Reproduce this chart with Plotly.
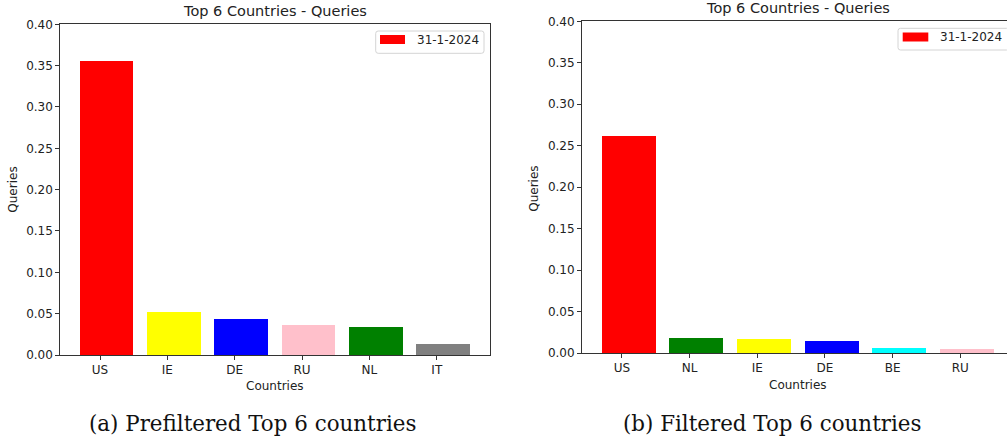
import plotly.graph_objects as go

# Share of queries per country on 31-1-2024
date_label = "31-1-2024"

pre_countries = ["US", "IE", "DE", "RU", "NL", "IT"]
pre_queries = [0.355, 0.052, 0.0435, 0.036, 0.034, 0.013]
pre_colors = ["red", "yellow", "blue", "pink", "green", "gray"]

post_countries = ["US", "NL", "IE", "DE", "BE", "RU"]
post_queries = [0.261, 0.0177, 0.0165, 0.0141, 0.006, 0.0048]
post_colors = ["red", "green", "yellow", "blue", "cyan", "pink"]

panel_title = "Top 6 Countries - Queries"
x_title = "Countries"
y_title = "Queries"
captions = ["(a) Prefiltered Top 6 countries", "(b) Filtered Top 6 countries"]

W, H = 1007, 443


def px(x):
    return x / W


def py(y):
    return 1 - y / H


SANS = "DejaVu Sans"
SERIF = "DejaVu Serif"
INK = "#222222"
SPINE = "#333333"

fig = go.Figure()

fig.add_trace(go.Bar(
    x=pre_countries, y=pre_queries, name=date_label,
    marker=dict(color=pre_colors, line=dict(width=0)),
    width=0.8, offset=-0.3, xaxis="x", yaxis="y", showlegend=False,
))
fig.add_trace(go.Bar(
    x=post_countries, y=post_queries, name=date_label,
    marker=dict(color=post_colors, line=dict(width=0)),
    width=0.8, offset=-0.3, xaxis="x2", yaxis="y2", showlegend=False,
))

tick_font = dict(family=SANS, size=12, color=INK)

common_x = dict(
    type="category", showgrid=False, zeroline=False,
    showline=True, linecolor=SPINE, linewidth=1, mirror=True,
    ticks="outside", ticklen=4, tickwidth=1, tickcolor=SPINE,
    tickfont=tick_font,
)
common_y = dict(
    range=[0, 0.40], dtick=0.05, tick0=0, tickformat=".2f",
    showgrid=False, zeroline=False,
    showline=True, linecolor=SPINE, linewidth=1,
    ticks="outside", ticklen=4, tickwidth=1, tickcolor=SPINE,
    tickfont=tick_font, ticklabelstandoff=0,
)

fig.update_layout(
    width=W, height=H,
    autosize=False,
    margin=dict(l=0, r=0, t=0, b=0, pad=0, autoexpand=False),
    paper_bgcolor="white", plot_bgcolor="white",
    bargap=0,
    xaxis=dict(common_x, domain=[px(60.3), px(490)], range=[-0.59, 5.79],
               categoryorder="array", categoryarray=pre_countries, anchor="y"),
    yaxis=dict(common_y, domain=[py(355), py(24.3)], anchor="x", mirror=True),
    xaxis2=dict(common_x, domain=[px(582), 1.0], range=[-0.59, 5.69],
                categoryorder="array", categoryarray=post_countries, anchor="y2"),
    yaxis2=dict(common_y, domain=[py(353), py(21.3)], anchor="x2", mirror=False),
)

annotations = []
shapes = []

# panel titles, axis titles and captions
panels = [
    dict(cx=275.2, title_y=11, xt_y=386, yt_x=12.7, yt_y=190, cap_x=252),
    dict(cx=798.0, title_y=8, xt_y=384.5, yt_x=533.3, yt_y=188.5, cap_x=772),
]
for p, cap in zip(panels, captions):
    annotations.append(dict(
        text=panel_title, x=px(p["cx"]), y=py(p["title_y"]), xref="paper", yref="paper",
        xanchor="center", yanchor="middle", showarrow=False,
        font=dict(family=SANS, size=14.5, color=INK),
    ))
    annotations.append(dict(
        text=x_title, x=px(p["cx"]), y=py(p["xt_y"]), xref="paper", yref="paper",
        xanchor="center", yanchor="middle", showarrow=False,
        font=dict(family=SANS, size=12, color=INK),
    ))
    annotations.append(dict(
        text=y_title, x=px(p["yt_x"]), y=py(p["yt_y"]), xref="paper", yref="paper",
        xanchor="center", yanchor="middle", showarrow=False, textangle=-90,
        font=dict(family=SANS, size=12, color=INK),
    ))
    annotations.append(dict(
        text=cap, x=px(p["cap_x"]), y=py(423), xref="paper", yref="paper",
        xanchor="center", yanchor="middle", showarrow=False,
        font=dict(family=SERIF, size=21.4, color="#111111"),
    ))

# legend boxes (box, swatch, label)
legends = [
    dict(box=(375.7, 31, 484, 53.3), sw=(380, 35, 405, 44), tx=415, ty=40.5),
    dict(box=(898, 28.3, 1009, 50), sw=(902.7, 32.5, 928.3, 41.5), tx=938, ty=37.5),
]
for lg in legends:
    x0, y0, x1, y1 = lg["box"]
    r = 2.5
    path = (
        f"M {px(x0 + r)} {py(y0)} L {px(x1 - r)} {py(y0)} "
        f"Q {px(x1)} {py(y0)} {px(x1)} {py(y0 + r)} L {px(x1)} {py(y1 - r)} "
        f"Q {px(x1)} {py(y1)} {px(x1 - r)} {py(y1)} L {px(x0 + r)} {py(y1)} "
        f"Q {px(x0)} {py(y1)} {px(x0)} {py(y1 - r)} L {px(x0)} {py(y0 + r)} "
        f"Q {px(x0)} {py(y0)} {px(x0 + r)} {py(y0)} Z"
    )
    shapes.append(dict(type="path", path=path, xref="paper", yref="paper",
                       line=dict(color="#d4d4d4", width=1), fillcolor="rgba(255,255,255,0.8)"))
    sx0, sy0, sx1, sy1 = lg["sw"]
    shapes.append(dict(type="rect", xref="paper", yref="paper",
                       x0=px(sx0), x1=px(sx1), y0=py(sy1), y1=py(sy0),
                       line=dict(width=0), fillcolor="red"))
    annotations.append(dict(
        text=date_label, x=px(lg["tx"]), y=py(lg["ty"]), xref="paper", yref="paper",
        xanchor="left", yanchor="middle", showarrow=False,
        font=dict(family=SANS, size=12, color=INK),
    ))

fig.update_layout(annotations=annotations, shapes=shapes)

fig.write_html("out.html")
